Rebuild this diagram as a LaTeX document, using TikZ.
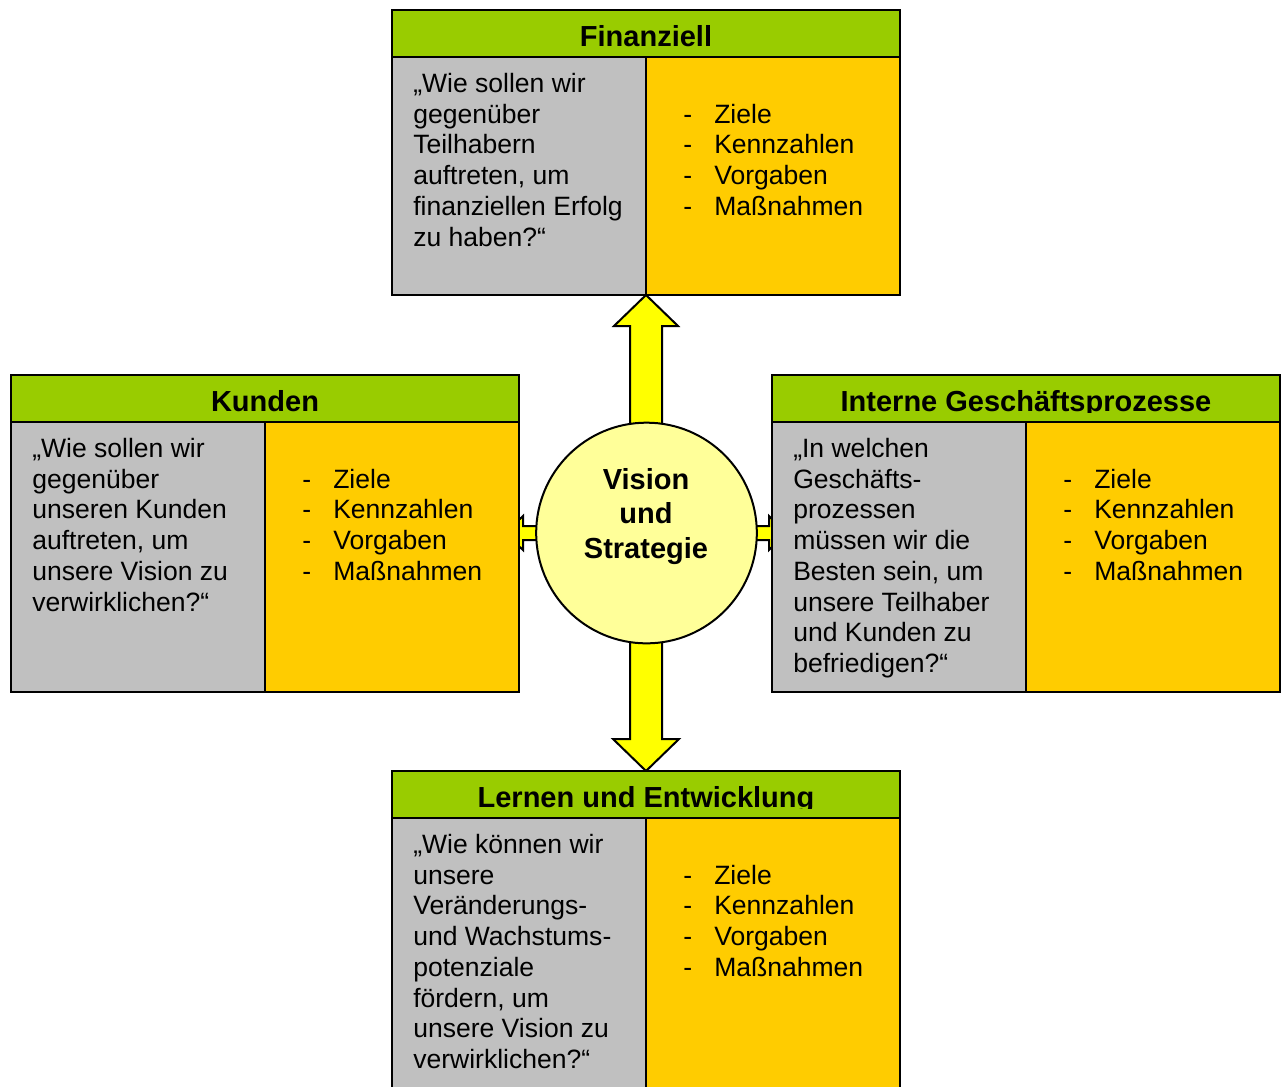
\documentclass[tikz,border=0pt]{standalone}
\usepackage{fontspec}
\setmainfont{Liberation Sans}
\definecolor{headgreen}{HTML}{99CC00}
\definecolor{qgray}{HTML}{C0C0C0}
\definecolor{listgold}{HTML}{FFCC00}
\definecolor{circfill}{HTML}{FFFF99}
\definecolor{arrowyellow}{HTML}{FFFF00}

% One perspective panel: #1 name, #2 left, #3 top, #4 bottom, #5 title, #6 question lines
\newcommand\bscpanel[6]{%
  \fill[headgreen] (#2,#3) rectangle (#2+508,#3+47);
  \fill[qgray] (#2,#3+47) rectangle (#2+254,#4);
  \fill[listgold] (#2+254,#3+47) rectangle (#2+508,#4);
  \draw[frame] (#2,#3) rectangle (#2+508,#4);
  \draw[frame] (#2,#3+47) -- (#2+508,#3+47);
  \draw[frame] (#2+254,#3+47) -- (#2+254,#4);
  \begin{scope}
    \clip (#2,#3) rectangle (#2+508,#3+37.5);
    \node[head] (#1-title) at (#2+254,#3+36) {#5};
  \end{scope}
  \foreach \t [count=\i] in {#6}
    \node[body] (#1-q\i) at (#2+21,#3+51.8+30.7*\i) {\t};
  \foreach \t [count=\i] in {Ziele,Kennzahlen,Vorgaben,Maßnahmen}{
    \node[body] (#1-d\i) at (#2+291,#3+82.5+30.7*\i) {-};
    \node[body] (#1-l\i) at (#2+322,#3+82.5+30.7*\i) {\t};
  }
}

\begin{document}
\begin{tikzpicture}[x=0.75pt,y=-0.75pt,
  frame/.style={draw=black,line width=1.5pt},
  blockarrow/.style={draw=black,line width=1.5pt,fill=arrowyellow,line join=miter},
  body/.style={font=\fontsize{19.9}{22.9}\selectfont,inner sep=0pt,anchor=base west},
  head/.style={font=\fontsize{21.75}{26}\selectfont\bfseries,inner sep=0pt,anchor=base},
  vislabel/.style={font=\fontsize{21.75}{26}\selectfont\bfseries,inner sep=0pt,anchor=base}]
\useasboundingbox (0,0) rectangle (1281,1086);
\begin{scope}
\clip (0,0) rectangle (1281,1086);

% arrows from the centre towards the four perspectives
\coordinate (c) at (646.5,533);
\draw[blockarrow] (505,533) -- (523,516) -- (523,526) -- (769,526) -- (769,516)
  -- (787,533) -- (769,550) -- (769,540) -- (523,540) -- (523,550) -- cycle;
\draw[blockarrow] (630,450) -- (630,326) -- (614,326) -- (646,295) -- (678,326)
  -- (662,326) -- (662,450) -- cycle;
\draw[blockarrow] (630,620) -- (630,739) -- (613,739) -- (646,771) -- (679,739)
  -- (662,739) -- (662,620) -- cycle;

% the four perspectives
\bscpanel{fin}{392}{10}{295}{Finanziell}
  {{„Wie sollen wir},{gegenüber},{Teilhabern},{auftreten, um},{finanziellen Erfolg},{zu haben?“}}
\bscpanel{kun}{11}{375}{692}{Kunden}
  {{„Wie sollen wir},{gegenüber},{unseren Kunden},{auftreten, um},{unsere Vision zu},{verwirklichen?“}}
\bscpanel{int}{772}{375}{692}{Interne Geschäftsprozesse}
  {{„In welchen},{Geschäfts-},{prozessen},{müssen wir die},{Besten sein, um},{unsere Teilhaber},{und Kunden zu},{befriedigen?“}}
\bscpanel{ler}{392}{771}{1100}{Lernen und Entwicklung}
  {{„Wie können wir},{unsere},{Veränderungs-},{und Wachstums-},{potenziale},{fördern, um},{unsere Vision zu},{verwirklichen?“}}

% vision and strategy in the centre
\node[circle,draw=black,line width=1.5pt,fill=circfill,minimum size=165.5pt,inner sep=0pt] (vis) at (c) {};
\node[vislabel] (vis1) at (646,489.5) {Vision};
\node[vislabel] (vis2) at (646,523.5) {und};
\node[vislabel] (vis3) at (646,558) {Strategie};
\end{scope}
\end{tikzpicture}
\end{document}
